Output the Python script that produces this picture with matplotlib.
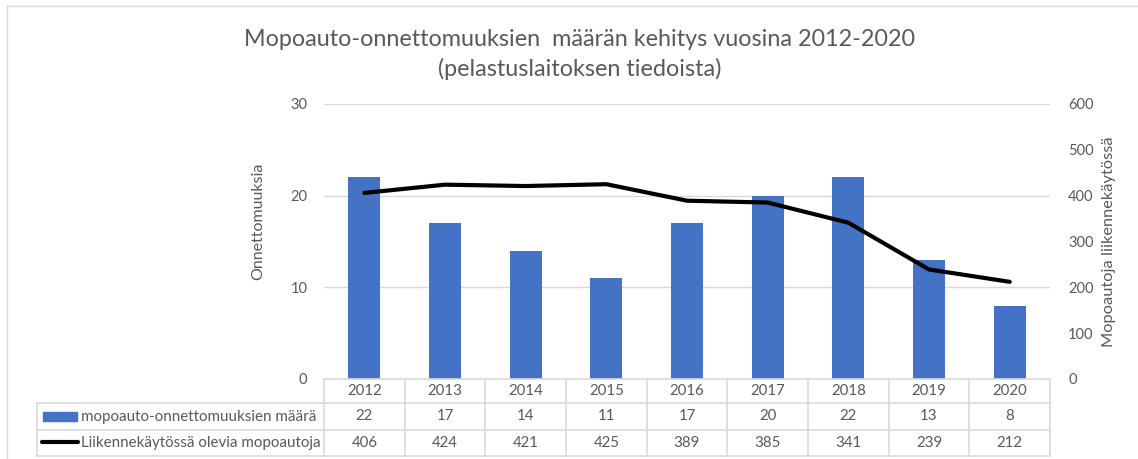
import matplotlib
matplotlib.use("Agg")
import matplotlib.pyplot as plt
from matplotlib.transforms import blended_transform_factory
from matplotlib.patches import Rectangle
from matplotlib.lines import Line2D

years = ["2012", "2013", "2014", "2015", "2016", "2017", "2018", "2019", "2020"]
accidents = [22, 17, 14, 11, 17, 20, 22, 13, 8]
vehicles = [406, 424, 421, 425, 389, 385, 341, 239, 212]
series_names = ["mopoauto-onnettomuuksien määrä", "Liikennekäytössä olevia mopoautoja"]
left_ticks = [0, 10, 20, 30]
right_ticks = [0, 100, 200, 300, 400, 500, 600]

W, H = 1138, 459
plt.rcParams['font.family'] = ['Lato', 'DejaVu Sans']
TXT = '#595959'
GRID = '#D9D9D9'
BLUE = '#4472C4'

fig = plt.figure(figsize=(W / 100, H / 100), dpi=100)

def fx(px):
    return px / W

def fy(py):
    return 1 - py / H

ax_l, ax_r, ax_t, ax_b = 324, 1050, 104, 379
ax = fig.add_axes([fx(ax_l), fy(ax_b), fx(ax_r - ax_l), (ax_b - ax_t) / H])
x = list(range(len(years)))
ax.bar(x, accidents, width=0.4, color=BLUE, zorder=3)
ax.set_xlim(-0.5, len(years) - 0.5)
ax.set_ylim(0, 30)
ax.set_yticks(left_ticks)
ax.set_xticks([])
ax.yaxis.grid(True, color=GRID, lw=1)
ax.set_axisbelow(True)
for s in ax.spines.values():
    s.set_visible(False)
ax.tick_params(axis='y', length=0, pad=12, labelsize=10.5, labelcolor=TXT)
ax.set_ylabel("Onnettomuuksia", fontsize=11.5, color=TXT)
ax.yaxis.set_label_coords(-(ax_l - 265) / (ax_r - ax_l), (ax_b - 221) / (ax_b - ax_t))

ax2 = ax.twinx()
ax2.plot(x, vehicles, color='black', lw=3, solid_capstyle='round', zorder=4)
ax2.set_ylim(0, 600)
ax2.set_yticks(right_ticks)
for s in ax2.spines.values():
    s.set_visible(False)
ax2.tick_params(axis='y', length=0, pad=13, labelsize=10.5, labelcolor=TXT)
ax2.set_ylabel("Mopoautoja liikennekäytössä", fontsize=11.8, color=TXT, labelpad=6)

# title
fig.text(fx(580), fy(40), "Mopoauto-onnettomuuksien  määrän kehitys vuosina 2012-2020",
         ha='center', va='center', fontsize=16.8, color=TXT)
fig.text(fx(580), fy(69), "(pelastuslaitoksen tiedoista)",
         ha='center', va='center', fontsize=16.8, color=TXT)

# data table
tr = blended_transform_factory(ax.transData, fig.transFigure)
rows_y = [379, 403, 430, 456]
for i in range(len(years) + 1):
    xb = i - 0.5
    fig.add_artist(Line2D([xb, xb], [fy(rows_y[0]), fy(rows_y[-1])], transform=tr,
                          color=GRID, lw=1.2))
fig.add_artist(Line2D([fx(ax_l), fx(ax_r)], [fy(rows_y[0])] * 2,
                      transform=fig.transFigure, color=GRID, lw=1.2))
for yy in rows_y[1:]:
    fig.add_artist(Line2D([fx(37), fx(ax_r)], [fy(yy)] * 2,
                          transform=fig.transFigure, color=GRID, lw=1.2))
fig.add_artist(Line2D([fx(37), fx(37)], [fy(rows_y[1]), fy(rows_y[-1])],
                      transform=fig.transFigure, color=GRID, lw=1.2))

def mid(a, b):
    return fy((a + b) / 2)

for i, yr in enumerate(years):
    fig.text(i, mid(rows_y[0], rows_y[1]), yr, transform=tr, ha='center', va='center',
             fontsize=10.8, color=TXT)
    fig.text(i, mid(rows_y[1], rows_y[2]), str(accidents[i]), transform=tr, ha='center',
             va='center', fontsize=10.8, color=TXT)
    fig.text(i, mid(rows_y[2], rows_y[3]), str(vehicles[i]), transform=tr, ha='center',
             va='center', fontsize=10.8, color=TXT)

# legend keys in table
fig.add_artist(Rectangle((fx(43), fy(421)), fx(34), 9 / H, transform=fig.transFigure,
                         color=BLUE))
fig.add_artist(Line2D([fx(42), fx(78)], [fy(442)] * 2, transform=fig.transFigure,
                      color='black', lw=3, solid_capstyle='round'))
fig.text(fx(81), mid(rows_y[1], rows_y[2]), series_names[0], ha='left', va='center',
         fontsize=10.9, color=TXT)
fig.text(fx(81), mid(rows_y[2], rows_y[3]), series_names[1], ha='left', va='center',
         fontsize=10.9, color=TXT)

# chart frame
fig.add_artist(Line2D([fx(7), 1], [fy(6)] * 2, transform=fig.transFigure, color=GRID, lw=1))
fig.add_artist(Line2D([fx(7)] * 2, [fy(6), 0], transform=fig.transFigure, color=GRID, lw=1))

fig.savefig("out.png", dpi=100)
